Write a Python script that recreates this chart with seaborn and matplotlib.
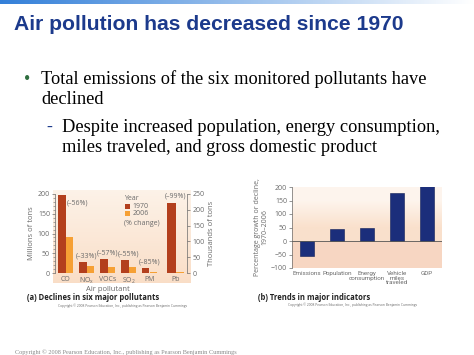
import numpy as np
import pandas as pd
import matplotlib
matplotlib.use("Agg")
import matplotlib.pyplot as plt
import seaborn as sns
from matplotlib.patches import Rectangle

# ===================== DATA =====================
pollutants = ["CO", "NO$_x$", "VOCs", "SO$_2$", "PM"]
tons_1970 = [198, 28, 35, 32, 13]          # millions of tons
tons_2006 = [90, 18, 15, 14, 2]
pct_change = ["(–56%)", "(–33%)", "(–57%)", "(–55%)", "(–85%)"]
pb_1970 = [222]                            # thousands of tons
pb_2006 = [2]
pb_change = "(–99%)"

indicators = ["Emissions", "Population", "Energy\nconsumption",
              "Vehicle\nmiles\ntraveled", "GDP"]
indicator_pct = [-54, 46, 48, 178, 203]

# ===================== STYLE =====================
sns.set_theme(style="white")
plt.rcParams["font.family"] = ["Open Sans", "DejaVu Sans"]
plt.rcParams["mathtext.default"] = "regular"

W, H = 474, 355
c1970 = "#b33f1d"
c2006 = "#f6a034"
navy = "#1b2e7b"
grey = "#6a6a6a"

fig = plt.figure(figsize=(W / 100, H / 100), dpi=100)
fig.patch.set_facecolor("white")


def px_axes(x0, y0, x1, y1):
    # pixel box (from top-left) -> figure axes
    return fig.add_axes([x0 / W, 1 - y1 / H, (x1 - x0) / W, (y1 - y0) / H])


def gradient_bg(ax, top, bottom):
    t = np.linspace(0, 1, 64)[:, None, None]
    img = np.array(top)[None, None, :] * (1 - t) + np.array(bottom)[None, None, :] * t
    img = np.repeat(img, 8, axis=1)
    ax.imshow(img, extent=[0, 1, 0, 1], transform=ax.transAxes,
              aspect="auto", zorder=0)


def style_ticks(ax):
    ax.tick_params(axis="y", labelsize=5, colors=grey, length=2, width=0.5,
                   pad=1.5, left=True)
    ax.tick_params(axis="x", labelsize=5, colors=grey, length=0, pad=2)


# top gradient strip
strip = px_axes(0, 0, W, 4)
g = np.linspace(0, 1, 200)[None, :, None]
strip.imshow(np.array([0.2, 0.5, 0.85])[None, None, :] * (1 - g) + np.ones(3) * g,
             aspect="auto", extent=[0, 1, 0, 1])
strip.axis("off")

# slide text
serif = "Liberation Serif"
fig.text(14 / W, 1 - 24 / H, "Air pollution has decreased since 1970",
         family="Liberation Sans", fontweight="bold", fontsize=15.2,
         color="#1c3a8c", va="center")
fig.text(24 / W, 1 - 79 / H, "•", family=serif, fontsize=13,
         color="#2f6e3f", va="center")
fig.text(41 / W, 1 - 79 / H, "Total emissions of the six monitored pollutants have",
         family=serif, fontsize=13.2, va="center", color="black")
fig.text(41 / W, 1 - 99 / H, "declined",
         family=serif, fontsize=13.2, va="center", color="black")
fig.text(46 / W, 1 - 127 / H, "-", family=serif, fontsize=13,
         color="#1c3a8c", va="center")
fig.text(62 / W, 1 - 127 / H, "Despite increased population, energy consumption,",
         family=serif, fontsize=13.2, va="center", color="black")
fig.text(62 / W, 1 - 148 / H, "miles traveled, and gross domestic product",
         family=serif, fontsize=13.2, va="center", color="black")

# ===================== CHART (a) =====================
bg_a = px_axes(53, 190, 191, 283)
gradient_bg(bg_a, (0.99, 0.95, 0.91), (0.98, 0.87, 0.78))
bg_a.axis("off")

ax1 = px_axes(55, 194, 160, 273)
df = pd.DataFrame({
    "pollutant": pollutants * 2,
    "tons": tons_1970 + tons_2006,
    "year": ["1970"] * 5 + ["2006"] * 5,
})
sns.barplot(data=df, x="pollutant", y="tons", hue="year",
            palette=[c1970, c2006], width=0.76, ax=ax1, legend=False,
            saturation=1, linewidth=0)
ax1.set_xlim(-0.5, 4.5)
ax1.set_ylim(0, 200)
ax1.set_yticks([0, 50, 100, 150, 200])
ax1.set_yticks(np.arange(0, 201, 10), minor=True)
ax1.tick_params(axis="y", which="minor", length=1.2, width=0.4, color=grey, left=True)
ax1.patch.set_alpha(0)
for s in ["top", "right", "bottom"]:
    ax1.spines[s].set_visible(False)
ax1.spines["left"].set_color(grey)
ax1.spines["left"].set_linewidth(0.5)
style_ticks(ax1)
ax1.set_xlabel("Air pollutant", fontsize=5.5, color=grey, labelpad=0)
ax1.set_ylabel("Millions of tons", fontsize=5.5, color=grey, labelpad=2)
ax1.text(0.05, tons_1970[0] - 20, pct_change[0], fontsize=5, color=grey,
         ha="left", va="center")
for i in range(1, 5):
    ax1.text(i, tons_1970[i] + 6, pct_change[i], fontsize=5, color=grey,
             ha="center", va="bottom")

# legend
ax1.text(0.66, 0.94, "Year", transform=ax1.transAxes, fontsize=5, color=grey,
         va="center")
for k, (lab, col) in enumerate([("1970", c1970), ("2006", c2006)]):
    yy = 0.84 - k * 0.09
    ax1.add_patch(Rectangle((0.665, yy - 0.03), 0.045, 0.06,
                            transform=ax1.transAxes, color=col, lw=0))
    ax1.text(0.735, yy, lab, transform=ax1.transAxes, fontsize=5, color=grey,
             va="center")
ax1.text(0.66, 0.63, "(% change)", transform=ax1.transAxes, fontsize=5,
         color=grey, va="center")

# Pb panel
ax2 = px_axes(164, 194, 187, 273)
df_pb = pd.DataFrame({"pollutant": ["Pb", "Pb"], "tons": pb_1970 + pb_2006,
                      "year": ["1970", "2006"]})
sns.barplot(data=df_pb, x="pollutant", y="tons", hue="year",
            palette=[c1970, c2006], width=0.76, ax=ax2, legend=False,
            saturation=1, linewidth=0)
ax2.set_xlim(-0.5, 0.5)
ax2.set_ylim(0, 250)
ax2.yaxis.tick_right()
ax2.yaxis.set_label_position("right")
ax2.set_yticks([0, 50, 100, 150, 200, 250])
ax2.patch.set_alpha(0)
for s in ["top", "left", "bottom"]:
    ax2.spines[s].set_visible(False)
ax2.spines["right"].set_color(grey)
ax2.spines["right"].set_linewidth(0.5)
ax2.tick_params(axis="y", labelsize=5, colors=grey, length=2, width=0.5,
                pad=2, right=True, left=False)
ax2.tick_params(axis="x", labelsize=5, colors=grey, length=0, pad=2)
ax2.set_xlabel("")
ax2.set_ylabel("Thousands of tons", fontsize=5.5, color=grey, labelpad=2)
ax2.text(0, pb_1970[0] + 10, pb_change, fontsize=5, color=grey,
         ha="center", va="bottom", clip_on=False)

fig.text(27 / W, 1 - 298 / H, "(a) Declines in six major pollutants",
         fontsize=5.5, fontweight="bold", color="#222222", va="center")
fig.text(58 / W, 1 - 306 / H,
         "Copyright © 2008 Pearson Education, Inc., publishing as Pearson Benjamin Cummings",
         fontsize=2.3, color=grey, va="center")

# ===================== CHART (b) =====================
ax3 = px_axes(292, 187, 442, 268)
ax3.set_xlim(-0.5, 4.5)
ax3.set_ylim(-100, 200)
ax3.imshow(np.array([(0.995, 0.96, 0.93), (0.98, 0.88, 0.80)])[:, None, :],
           extent=[-0.5, 4.5, 0, 200], aspect="auto",
           interpolation="bilinear", zorder=0)
ax3.axhspan(-100, 0, color="#f7d6c2", lw=0, zorder=0)
sns.barplot(x=indicators, y=indicator_pct, color=navy, width=0.47, ax=ax3,
            saturation=1, linewidth=0.4, edgecolor="#0f1d55", zorder=2)
ax3.set_xlim(-0.5, 4.5)
ax3.set_ylim(-100, 200)
ax3.axhline(0, color="#555555", lw=0.6, zorder=3)
ax3.set_yticks([-100, -50, 0, 50, 100, 150, 200])
for s in ["top", "right", "bottom"]:
    ax3.spines[s].set_visible(False)
ax3.spines["left"].set_color(grey)
ax3.spines["left"].set_linewidth(0.5)
style_ticks(ax3)
for lab in ax3.get_xticklabels():
    lab.set_fontfamily("Roboto")
    lab.set_fontsize(4.5)
    lab.set_linespacing(0.95)
ax3.set_ylabel("Percentage growth or decline,\n1970–2006", fontsize=5,
               color=grey, labelpad=2, linespacing=1.0)

fig.text(258 / W, 1 - 298 / H, "(b) Trends in major indicators",
         fontsize=5.5, fontweight="bold", color="#222222", va="center")
fig.text(288 / W, 1 - 305 / H,
         "Copyright © 2008 Pearson Education, Inc., publishing as Pearson Benjamin Cummings",
         fontsize=2.3, color=grey, va="center")

fig.text(15 / W, 1 - 352 / H,
         "Copyright © 2008 Pearson Education, Inc., publishing as Pearson Benjamin Cummings",
         family=serif, fontsize=4.5, color="#888888", va="center")

fig.savefig("out.png", dpi=100)
